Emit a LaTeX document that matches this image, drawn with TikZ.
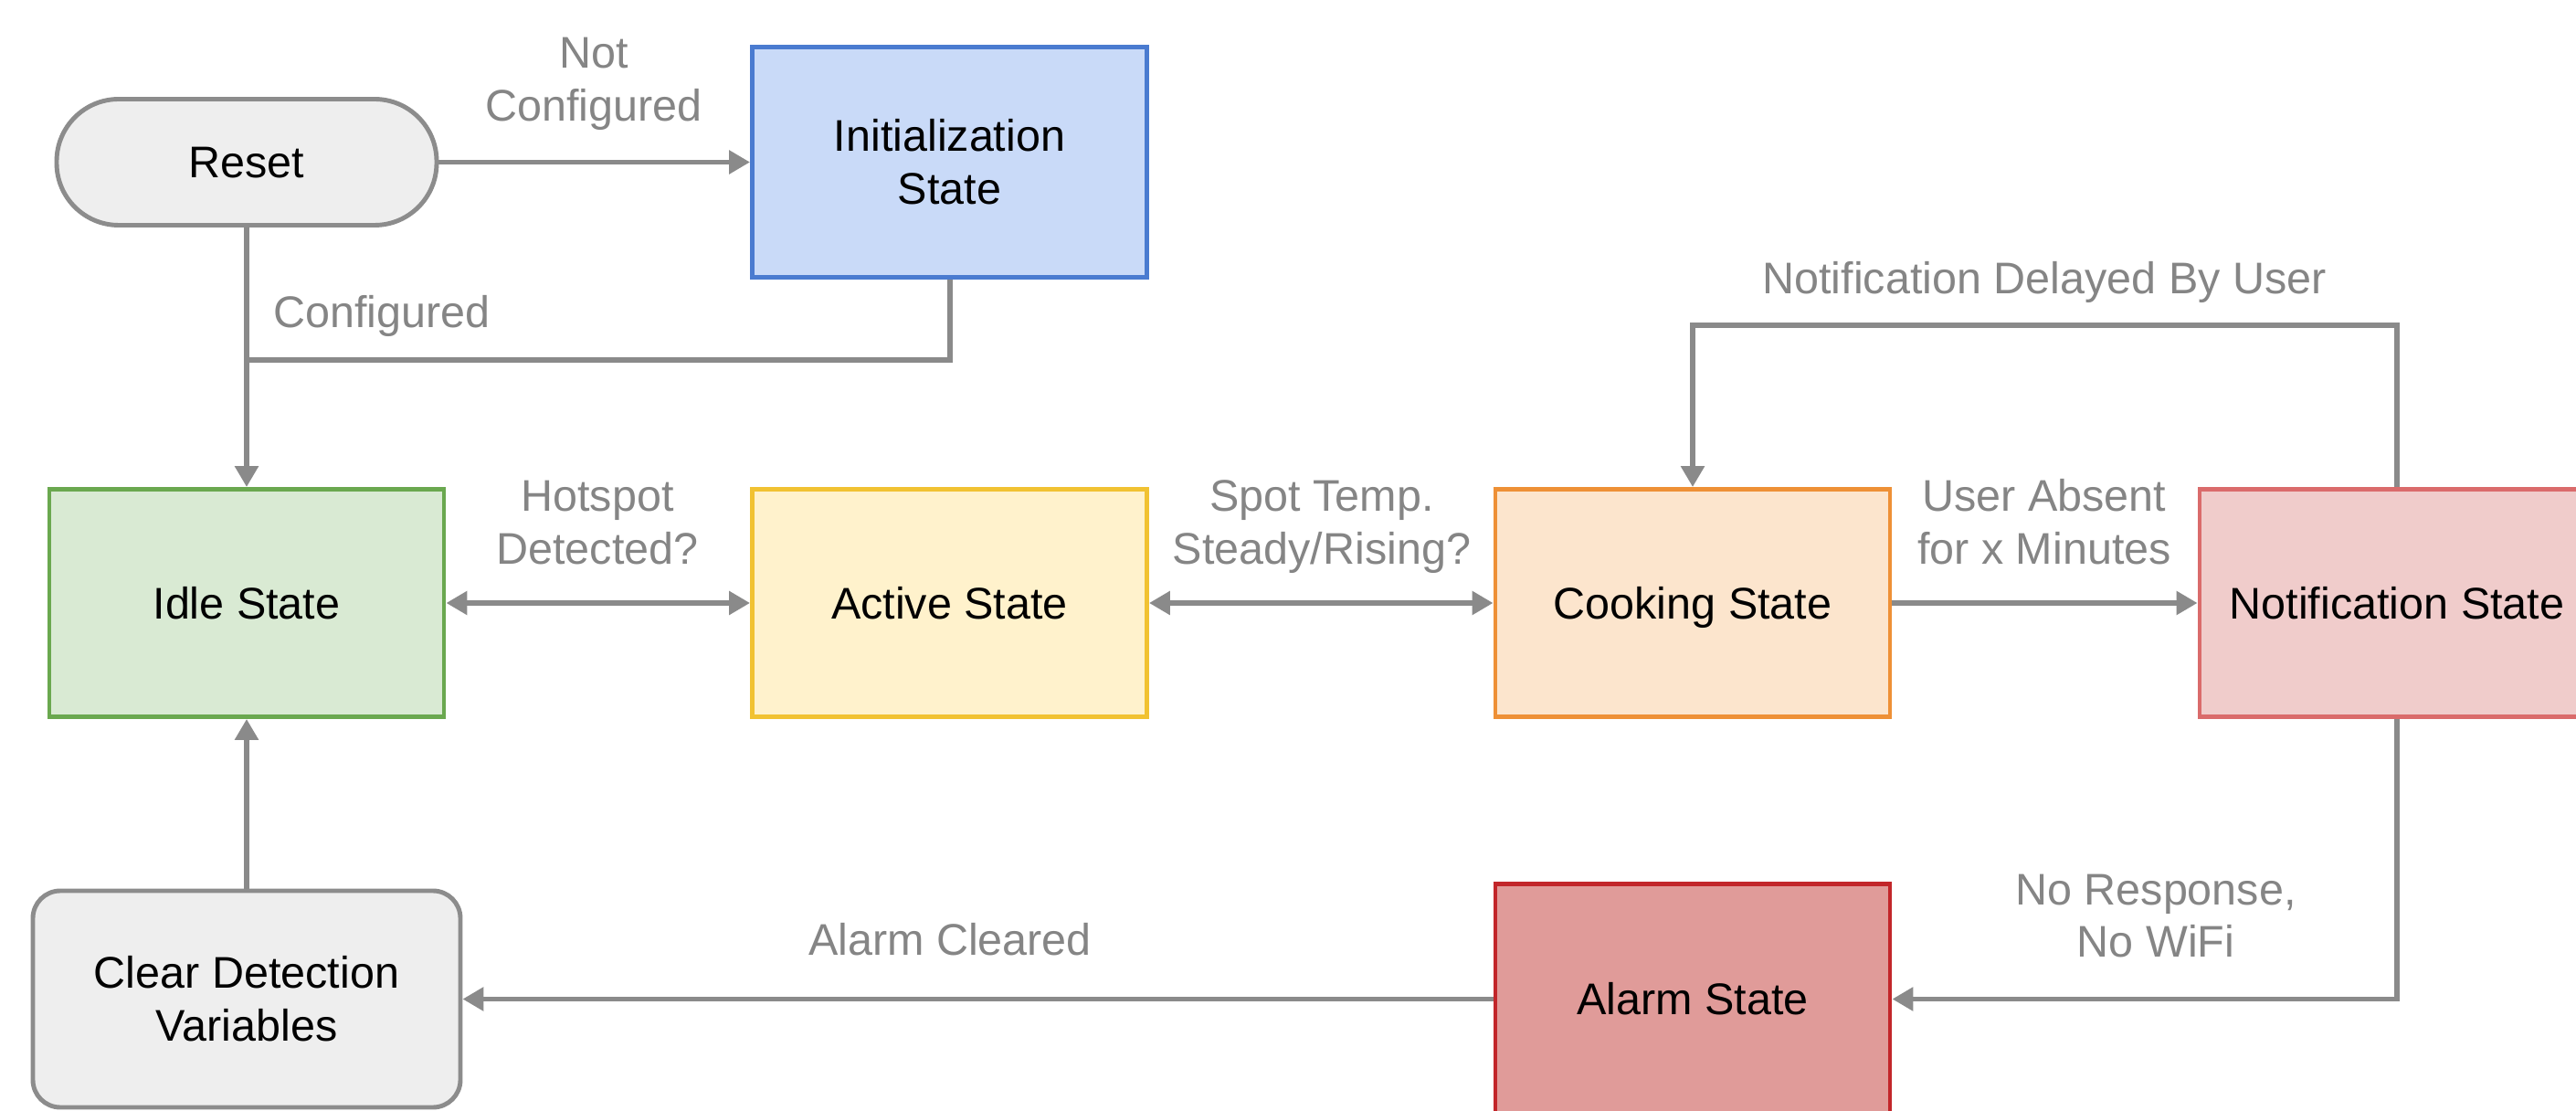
\documentclass[tikz,border=0pt]{standalone}
\usepackage{fontspec}
\setmainfont{Liberation Sans}
\usetikzlibrary{arrows.meta}
\definecolor{linegray}{HTML}{8A8A8A}
\definecolor{labelgray}{HTML}{858585}
\definecolor{grayfill}{HTML}{EEEEEE}
\definecolor{grayline}{HTML}{8C8C8C}
\definecolor{bluefill}{HTML}{C9DAF8}
\definecolor{blueline}{HTML}{4A7BD0}
\definecolor{greenfill}{HTML}{D9EAD3}
\definecolor{greenline}{HTML}{6AA84F}
\definecolor{yellowfill}{HTML}{FFF2CC}
\definecolor{yellowline}{HTML}{F1C232}
\definecolor{orangefill}{HTML}{FCE5CD}
\definecolor{orangeline}{HTML}{EE9036}
\definecolor{pinkfill}{HTML}{F0CCCB}
\definecolor{pinkline}{HTML}{DA6B6B}
\definecolor{redfill}{HTML}{E09B99}
\definecolor{redline}{HTML}{C2262A}
\begin{document}
\begin{tikzpicture}[
  every node/.style={font=\fontsize{13.8}{16.5}\selectfont},
  box/.style={draw, line width=1.4pt, minimum width=4.32cm, minimum height=2.49cm,
    inner sep=0pt, align=center, text=black},
  oneline/.style={text height=9.9pt, text depth=0pt},
  lbl/.style={text=labelgray, inner sep=0pt, anchor=base},
  tip/.tip={Triangle[width=0.25cm,length=0.23cm]},
  arr/.style={draw=linegray, line width=1.7pt, -tip},
  darr/.style={draw=linegray, line width=1.7pt, tip-tip},
  plain/.style={draw=linegray, line width=1.7pt}
]
\clip (0,0) rectangle (28.2,12.15);
\fill[white] (0,0) rectangle (28.2,12.15);

% nodes
\node[box, oneline, draw=grayline, fill=grayfill, rounded corners=0.68cm,
  minimum width=4.16cm, minimum height=1.38cm] (reset) at (2.70,10.375) {Reset};
\node[box, draw=blueline, fill=bluefill, minimum height=2.52cm] (init) at (10.395,10.375) {Initialization\\State};
\node[box, oneline, draw=greenline, fill=greenfill] (idle) at (2.70,5.55) {Idle State};
\node[box, oneline, draw=yellowline, fill=yellowfill] (active) at (10.395,5.55) {Active State};
\node[box, oneline, draw=orangeline, fill=orangefill] (cooking) at (18.53,5.55) {Cooking State};
\node[box, oneline, draw=pinkline, fill=pinkfill] (notif) at (26.24,5.55) {Notification State};
\node[box, oneline, draw=redline, fill=redfill, minimum height=2.52cm] (alarm) at (18.53,1.215) {Alarm State};
\node[box, draw=grayline, fill=grayfill, rounded corners=0.3cm,
  minimum width=4.68cm, minimum height=2.37cm] (clear) at (2.70,1.215) {Clear Detection\\Variables};

% helper coordinates
\coordinate (join) at (2.70,8.21);
\coordinate (loopR) at (26.24,8.59);
\coordinate (loopL) at (18.53,8.59);

% connectors
\draw[arr] (reset.east) -- (init.west);
\draw[arr] (reset.south) -- (idle.north);
\draw[plain] (init.south) |- (join);
\draw[darr] (idle.east) -- (active.west);
\draw[darr] (active.east) -- (cooking.west);
\draw[arr] (cooking.east) -- (notif.west);
\draw[arr, line join=miter] (notif.north) -- (loopR) -- (loopL) -- (cooking.north);
\draw[arr] (notif.south) |- (alarm.east);
\draw[arr] (alarm.west) -- (clear.east);
\draw[arr] (clear.north) -- (idle.south);

% labels
\node[lbl] (lNotConf) at (6.50,11.40) {\begin{tabular}[t]{@{}c@{}}Not\\Configured\end{tabular}};
\node[lbl] (lConf) at (4.18,8.56) {Configured};
\node[lbl] (lHot) at (6.54,6.55) {\begin{tabular}[t]{@{}c@{}}Hotspot\\Detected?\end{tabular}};
\node[lbl] (lSpot) at (14.47,6.55) {\begin{tabular}[t]{@{}c@{}}Spot Temp.\\Steady/Rising?\end{tabular}};
\node[lbl] (lUser) at (22.38,6.55) {\begin{tabular}[t]{@{}c@{}}User Absent\\for x Minutes\end{tabular}};
\node[lbl] (lDelay) at (22.38,8.93) {Notification Delayed By User};
\node[lbl] (lNoResp) at (23.60,2.25) {\begin{tabular}[t]{@{}c@{}}No Response,\\No WiFi\end{tabular}};
\node[lbl] (lAlarm) at (10.40,1.70) {Alarm Cleared};
\end{tikzpicture}
\end{document}
